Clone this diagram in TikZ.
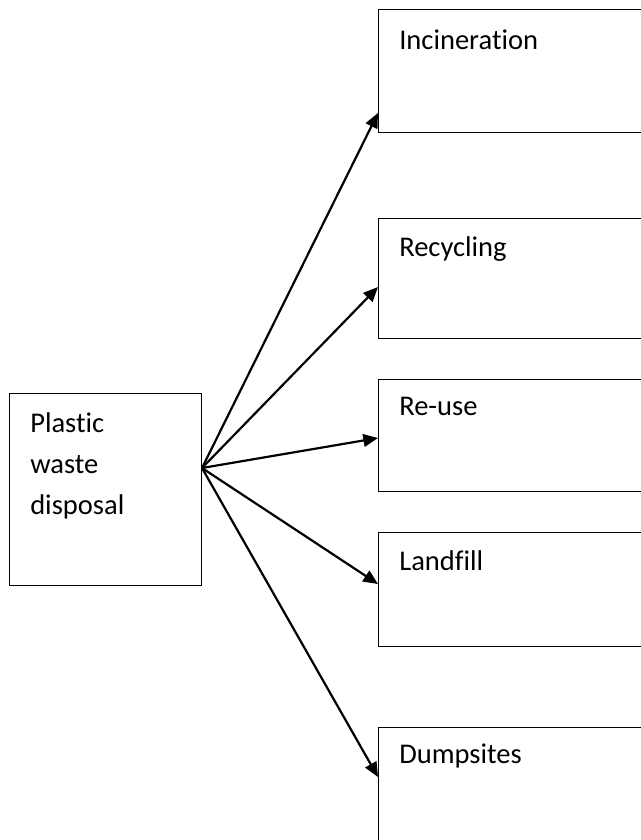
\documentclass[tikz,border=0pt]{standalone}
\usepackage{fontspec}
\setmainfont{Carlito}[Ligatures=NoCommon]
\usetikzlibrary{arrows.meta,positioning}
\tikzset{box/.style={draw,black,line width=0.75pt,anchor=north west,inner sep=0pt},
 boxtext/.style={anchor=base west,inner sep=0pt,align=left,font=\fontsize{21.4}{30.75}\selectfont},
 link/.style={black,line width=1.65pt,-{Triangle[length=11pt,width=9.5pt]}}}

\begin{document}
\begin{tikzpicture}[x=0.75pt,y=-0.75pt]
  \useasboundingbox (0,0) rectangle (641,840);
  \clip (0,0) rectangle (641,840);
  % source box
  \node[box,minimum width=144pt,minimum height=144pt] (plastic) at (9,393) {};
  \node[boxtext] (plastictxt) at ([shift={(15.75pt,-90.75pt)}]plastic.north west) {Plastic\\waste\\disposal};
  % disposal routes
  \node[box,minimum width=241.5pt,minimum height=92.25pt] (incin) at (378,9) {};
  \node[box,minimum width=241.5pt,minimum height=90pt] (recyc) at (378,218) {};
  \node[box,minimum width=241.5pt,minimum height=84pt] (reuse) at (378,379) {};
  \node[box,minimum width=241.5pt,minimum height=85.5pt] (landf) at (378,532) {};
  \node[box,minimum width=241.5pt,minimum height=92.25pt] (dumps) at (378,727) {};
  \node[boxtext] (incintxt) at ([shift={(15.75pt,-30pt)}]incin.north west) {Incineration};
  \node[boxtext] (recyctxt) at ([shift={(15.75pt,-29pt)}]recyc.north west) {Recycling};
  \node[boxtext] (reusetxt) at ([shift={(15.75pt,-27pt)}]reuse.north west) {Re-use};
  \node[boxtext] (landftxt) at ([shift={(15.75pt,-29pt)}]landf.north west) {Landfill};
  \node[boxtext] (dumpstxt) at ([shift={(15.75pt,-27pt)}]dumps.north west) {Dumpsites};
  % arrows
  \coordinate (src) at ([yshift=-56.25pt]plastic.north east);
  \draw[link] (src) -- ([yshift=-78pt]incin.north west);
  \draw[link] (src) -- ([yshift=-51.75pt]recyc.north west);
  \draw[link] (src) -- ([yshift=-44.25pt]reuse.north west);
  \draw[link] (src) -- ([yshift=-39pt]landf.north west);
  \draw[link] (src) -- ([yshift=-37.5pt]dumps.north west);
\end{tikzpicture}
\end{document}
